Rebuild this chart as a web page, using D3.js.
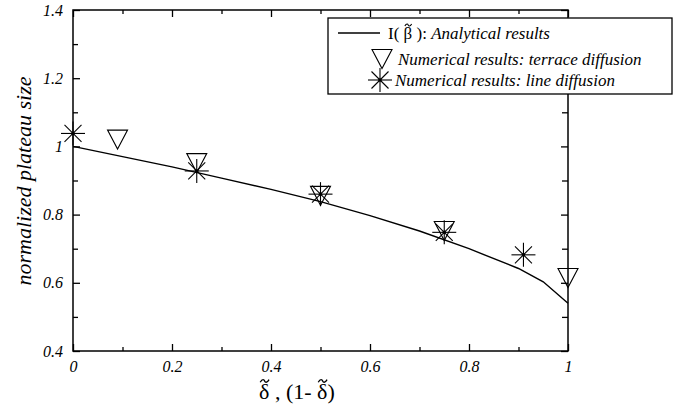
<!DOCTYPE html>
<html>
<head>
<meta charset="utf-8">
<script src="https://cdn.jsdelivr.net/npm/d3@7"></script>
<style>
  body { margin: 0; background: #fff; }
  svg text { font-family: "Liberation Serif", "Times New Roman", Times, serif; white-space: pre; }
  .axis path { display: none; }
  .axis line { stroke: #000; stroke-width: 1.3; }
  .axis text { font-size: 16px; font-style: italic; fill: #000; }
</style>
</head>
<body>
<div id="chart"></div>
<script>
// analytical curve I(beta)
var curveX = [0, 0.1, 0.2, 0.3, 0.4, 0.5, 0.6, 0.7, 0.8, 0.9, 0.95, 1]
var curveY = [1.0, 0.97, 0.94, 0.907, 0.874, 0.838, 0.797, 0.752, 0.70, 0.642, 0.603, 0.54]

// numerical results
var terraceX = [0.09, 0.25, 0.5, 0.75, 1.0]
var terraceY = [1.02, 0.951, 0.855, 0.752, 0.614]
var lineX = [0, 0.25, 0.5, 0.75, 0.91]
var lineY = [1.038, 0.928, 0.86, 0.748, 0.682]

var xMajor = [0, 0.2, 0.4, 0.6, 0.8, 1]
var xMinor = [0.1, 0.3, 0.5, 0.7, 0.9]
var yMajor = [0.4, 0.6, 0.8, 1.0, 1.2, 1.4]
var yMinor = [0.5, 0.7, 0.9, 1.1, 1.3]
var yLabels = ["0.4", "0.6", "0.8", "1", "1.2", "1.4"]
var xLabels = ["0", "0.2", "0.4", "0.6", "0.8", "1"]

var margin = {top: 10, right: 112, bottom: 55, left: 73}
var width = 680 - margin.left - margin.right,
    height = 406 - margin.top - margin.bottom

var svg = d3.select("#chart").append("svg")
    .attr("width", 680)
    .attr("height", 406)
  .append("g")
    .attr("transform", "translate(" + margin.left + "," + margin.top + ")")

var x = d3.scaleLinear().domain([0, 1]).range([0, width])
var y = d3.scaleLinear().domain([0.4, 1.4]).range([height, 0])

// frame
svg.append("rect")
  .attr("width", width).attr("height", height)
  .attr("fill", "none").attr("stroke", "#000").attr("stroke-width", 1.5)

function addAxis(gen, scale, vals, size, labels, tr) {
  var ax = gen(scale).tickValues(vals).tickSize(-size).tickPadding(10)
  ax.tickFormat(labels ? function(d, i) { return labels[i] } : function() { return "" })
  var g = svg.append("g").attr("class", "axis")
  if (tr) g.attr("transform", tr)
  g.call(ax)
  g.attr("font-family", null)
  return g
}

addAxis(d3.axisBottom, x, xMajor, 7, xLabels, "translate(0," + height + ")")
addAxis(d3.axisBottom, x, xMinor, 4, null, "translate(0," + height + ")")
addAxis(d3.axisTop, x, xMajor, 7, null)
addAxis(d3.axisTop, x, xMinor, 4, null)
addAxis(d3.axisLeft, y, yMajor, 7, yLabels)
addAxis(d3.axisLeft, y, yMinor, 5, null)
addAxis(d3.axisRight, y, yMajor, 7, null, "translate(" + width + ",0)")
addAxis(d3.axisRight, y, yMinor, 6, null, "translate(" + width + ",0)")

// analytical line
var curve = curveX.map(function(d, i) { return [d, curveY[i]] })
svg.append("path")
  .datum(curve)
  .attr("fill", "none").attr("stroke", "#000").attr("stroke-width", 1.4)
  .attr("d", d3.line().x(function(d) { return x(d[0]) }).y(function(d) { return y(d[1]) }))

function triangle(g, cx, cy) {
  g.append("path")
    .attr("d", "M" + (cx - 10) + "," + (cy - 9.5) + "L" + (cx + 10) + "," + (cy - 9.5) +
               "L" + cx + "," + (cy + 9.5) + "Z")
    .attr("fill", "none").attr("stroke", "#000").attr("stroke-width", 1.1)
}

function star(g, cx, cy) {
  var r = 12, d = 8.5
  var segs = [[-r, 0, r, 0], [0, -r, 0, r], [-d, -d, d, d], [-d, d, d, -d]]
  segs.forEach(function(s) {
    g.append("line")
      .attr("x1", cx + s[0]).attr("y1", cy + s[1])
      .attr("x2", cx + s[2]).attr("y2", cy + s[3])
      .attr("stroke", "#000").attr("stroke-width", 1.1)
  })
  g.append("circle").attr("cx", cx).attr("cy", cy).attr("r", 1.8).attr("fill", "#000")
}

var markers = svg.append("g")
terraceX.forEach(function(d, i) { triangle(markers, x(d), y(terraceY[i])) })
lineX.forEach(function(d, i) { star(markers, x(d), y(lineY[i])) })

// axis titles
svg.append("text")
  .attr("transform", "translate(-42,171) rotate(-90)")
  .attr("text-anchor", "middle")
  .style("font-size", "22px").style("font-style", "italic")
  .text("normalized plateau size")

// letter with a small tilde path above it
function tilded(g, xpos, ypos, size, ch) {
  var t = g.append("text").attr("x", xpos).attr("y", ypos).style("font-size", size + "px").text(ch)
  var w = t.node().getComputedTextLength()
  var cx = xpos + w / 2 + size * 0.02, cy = ypos - size * 0.82, hw = size * 0.2, a = size * 0.06
  g.append("path")
    .attr("d", "M" + (cx - hw) + "," + (cy + a) +
               "C" + (cx - hw * 0.5) + "," + (cy - a * 2) + " " + (cx - hw * 0.1) + "," + (cy - a) + " " + cx + "," + cy +
               "S" + (cx + hw * 0.5) + "," + (cy + a * 2) + " " + (cx + hw) + "," + (cy - a))
    .attr("fill", "none").attr("stroke", "#000").attr("stroke-width", size / 16)
  return w
}

var xt = svg.append("g")
var x0 = 259 - margin.left
var w1 = tilded(xt, x0, 389, 22, "δ")
var rest = xt.append("text").attr("x", x0 + w1).attr("y", 389).style("font-size", "22px").text(" , (1- ")
var w2 = rest.node().getComputedTextLength()
var w3 = tilded(xt, x0 + w1 + w2, 389, 22, "δ")
xt.append("text").attr("x", x0 + w1 + w2 + w3).attr("y", 389).style("font-size", "22px").text(")")

// legend
var leg = svg.append("g").attr("transform", "translate(" + (328 - margin.left) + "," + (18 - margin.top) + ")")
leg.append("rect")
  .attr("width", 344).attr("height", 76)
  .attr("fill", "#fff").attr("stroke", "#000").attr("stroke-width", 1.3)

leg.append("line").attr("x1", 10).attr("x2", 52).attr("y1", 15).attr("y2", 15)
  .attr("stroke", "#000").attr("stroke-width", 1.3)
var t1 = leg.append("text").attr("x", 60).attr("y", 21).style("font-size", "17px").text("I( ")
var lx = 60 + t1.node().getComputedTextLength()
var wb = tilded(leg, lx, 21, 17, "β")
var t2 = leg.append("text").attr("x", lx + wb).attr("y", 21).style("font-size", "17px").text(" ): ")
var lx2 = lx + wb + t2.node().getComputedTextLength()
leg.append("text").attr("x", lx2).attr("y", 21)
  .style("font-size", "17px").style("font-style", "italic").text("Analytical results")

triangle(leg, 54, 41)
leg.append("text").attr("x", 70).attr("y", 47).style("font-size", "17px")
  .style("font-style", "italic").text("Numerical results: terrace diffusion")

star(leg, 52, 62)
leg.append("text").attr("x", 67).attr("y", 68).style("font-size", "17px")
  .style("font-style", "italic").text("Numerical results: line diffusion")
</script>
</body>
</html>
